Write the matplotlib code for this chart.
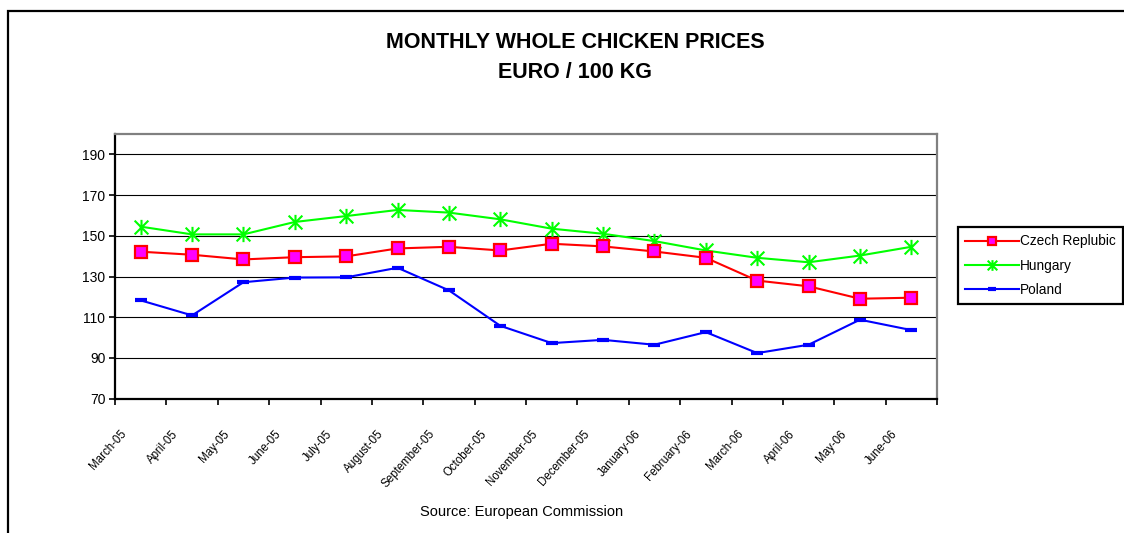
import numpy as np
import matplotlib
matplotlib.use('Agg')
import matplotlib.pyplot as plt
from matplotlib.patches import Rectangle
from matplotlib.path import Path

plt.rcParams['font.family'] = ['Liberation Sans', 'DejaVu Sans']

months = ['March-05', 'April-05', 'May-05', 'June-05', 'July-05', 'August-05',
          'September-05', 'October-05', 'November-05', 'December-05', 'January-06',
          'February-06', 'March-06', 'April-06', 'May-06', 'June-06']
czech = [142.2, 140.7, 138.4, 139.5, 139.9, 143.8, 144.6, 142.8,
         146.1, 144.8, 142.3, 139.2, 128.0, 125.2, 119.1, 119.6]
hungary = [154.5, 150.7, 150.7, 156.8, 159.7, 162.7, 161.4, 158.1,
           153.5, 151.0, 147.4, 142.8, 139.2, 137.0, 140.3, 144.6]
poland = [118.3, 110.9, 127.2, 129.5, 129.6, 134.3, 123.2, 105.8,
          97.3, 98.9, 96.5, 102.7, 92.4, 96.5, 108.8, 103.7]

# excel style star: vertical bar + X
star = Path([(0, -1), (0, 1), (-0.9, -0.9), (0.9, 0.9), (-0.9, 0.9), (0.9, -0.9)],
            [Path.MOVETO, Path.LINETO] * 3)

fig = plt.figure(figsize=(11.24, 5.33), dpi=100)
ax = fig.add_axes([115 / 1124, 1 - 398.7 / 533, (937 - 115) / 1124, (398.7 - 134) / 533])

x = np.arange(len(months))
ax.plot(x, czech, color='#FF0000', lw=1.5, marker='s', ms=8,
        mfc='#FF00FF', mec='#FF0000', mew=1.6, label='Czech Replubic', zorder=4)
ax.plot(x, hungary, color='#00FF00', lw=1.5, marker=star, ms=11,
        mec='#00FF00', mew=1.5, label='Hungary', zorder=3)
ax.plot(x, poland, color='#0000FF', lw=1.5, marker='_', ms=8,
        mew=3, label='Poland', zorder=3)

ax.set_xlim(-0.5, len(months) - 0.5)
ax.set_ylim(70, 200)
ax.set_yticks(range(70, 191, 20))
ax.yaxis.grid(True, color='black', lw=0.8)
ax.set_axisbelow(True)

# labels sit a little left of the category centre in the original
ax.set_xticks(x - 0.22)
ax.set_xticklabels(months, rotation=48, ha='right', va='top', fontsize=8.3)
ax.set_xticks(np.arange(-0.5, len(months)), minor=True)
ax.tick_params(axis='x', which='major', length=0, pad=21)
ax.tick_params(axis='x', which='minor', length=4, width=1.2, direction='out')
ax.tick_params(axis='y', length=4, width=1.2, direction='out', labelsize=10, pad=3)

for s in ['left', 'bottom']:
    ax.spines[s].set_color('black')
    ax.spines[s].set_linewidth(1.6)
for s in ['top', 'right']:
    ax.spines[s].set_color('#808080')
    ax.spines[s].set_linewidth(1.6)

fig.text(575 / 1124, 1 - 42 / 533, 'MONTHLY WHOLE CHICKEN PRICES', ha='center', va='center',
         fontsize=15.5, fontweight='bold')
fig.text(575 / 1124, 1 - 72 / 533, 'EURO / 100 KG', ha='center', va='center',
         fontsize=15.5, fontweight='bold')
fig.text(522 / 1124, 1 - 512 / 533, 'Source: European Commission', ha='center', va='center',
         fontsize=10.5)

leg = fig.legend(loc='upper left', bbox_to_anchor=(958 / 1124, 1 - 227 / 533),
                 borderaxespad=0, fancybox=False, framealpha=1, edgecolor='black',
                 fontsize=9.8, handlelength=3.9, handletextpad=0.1, borderpad=0.55,
                 labelspacing=0.75, markerscale=0.7)
leg.get_frame().set_linewidth(1.6)

fig.patches.append(Rectangle((8 / 1124, -0.1), 1.2, 1.1 - 11 / 533, transform=fig.transFigure,
                             fill=False, edgecolor='black', lw=1.6))

fig.savefig('out.png', dpi=100)
